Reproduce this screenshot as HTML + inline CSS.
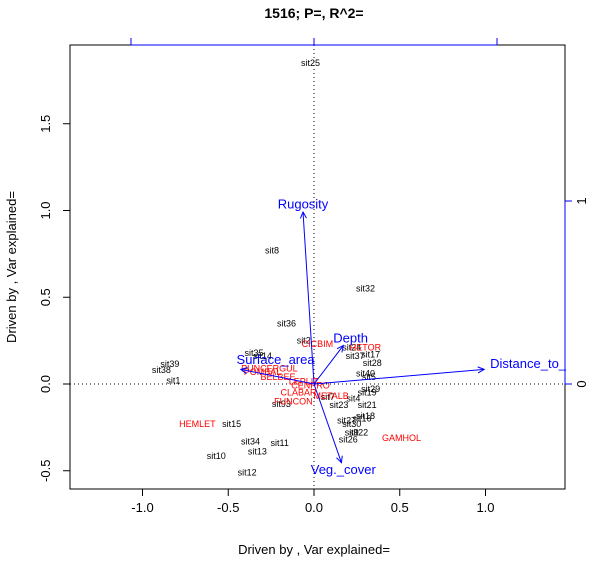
<!DOCTYPE html>
<html><head><meta charset="utf-8"><style>body{margin:0;background:#fff}svg{display:block;font-family:"Liberation Sans",Arial,sans-serif}</style></head>
<body>
<svg id="c" width="600" height="569" viewBox="0 0 600 569">
<text x="314" y="18" text-anchor="middle" font-weight="bold" font-size="14">1516; P=, R^2=</text>
<rect x="70" y="45" width="495" height="444" fill="none" stroke="#000"/>
<g id="g"></g>
<text x="314" y="554" text-anchor="middle" font-size="13">Driven by , Var explained=</text>
<text transform="translate(16,267) rotate(-90)" text-anchor="middle" font-size="13">Driven by , Var explained=</text>
</svg>
<script>
const xTicks=[-1,-0.5,0,0.5,1];
const yTicks=[-0.5,0,0.5,1,1.5];
const topTicks=[-1,0,1];
const rightTicks=[0,1];
const siteNames=["sit25","sit8","sit32","sit36","sit2","sit24","sit37","sit17","sit28","sit40","sit5","sit35","sit14","sit39","sit38","sit1","sit29","sit19","sit7","sit4","sit23","sit21","sit93","sit18","sit16","sit27","sit30","sit9","sit22","sit26","sit15","sit34","sit11","sit13","sit10","sit12"];
const siteX=[-0.02,-0.245,0.30,-0.16,-0.06,0.22,0.24,0.33,0.34,0.30,0.32,-0.35,-0.30,-0.84,-0.89,-0.82,0.33,0.31,0.08,0.23,0.145,0.31,-0.19,0.30,0.28,0.19,0.22,0.22,0.26,0.20,-0.48,-0.37,-0.20,-0.33,-0.57,-0.39];
const siteY=[1.85,0.77,0.55,0.35,0.25,0.21,0.16,0.17,0.12,0.06,0.04,0.18,0.16,0.115,0.08,0.02,-0.03,-0.05,-0.075,-0.085,-0.12,-0.12,-0.115,-0.185,-0.2,-0.21,-0.23,-0.28,-0.28,-0.32,-0.23,-0.33,-0.34,-0.39,-0.415,-0.51];
const spNames=["HEMLET","GAMHOL","CICBIM","HETOR","PUNCERGUL","POMBAL","BELBEE","LEPLIT","CENPRO","CLABAR","METALB","FUNCON"];
const spX=[-0.68,0.51,0.02,0.30,-0.26,-0.30,-0.21,-0.06,-0.02,-0.09,0.10,-0.12];
const spY=[-0.23,-0.31,0.23,0.21,0.09,0.07,0.04,0.015,-0.01,-0.05,-0.07,-0.10];
const envNames=["Rugosity","Depth","Surface_area","Distance_to_","Veg._cover"];
const envX=[-0.06,0.16,-0.40,0.93,0.15];
const envY=[0.94,0.21,0.08,0.08,-0.43];
const envLX=[-0.06,0.20,-0.21,1.17,0.16];
const envLY=[0.98,0.25,0.13,0.11,-0.47];

const sx=v=>314+v*171.5, sy=v=>384-v*173.5;
const ax=v=>314+v*183, ay=v=>384-v*183;
const g=document.getElementById('g');
const NS="http://www.w3.org/2000/svg";
function mk(t,a,txt){const e=document.createElementNS(NS,t);for(const k in a)e.setAttribute(k,a[k]);if(txt!=null)e.textContent=txt;g.appendChild(e);return e;}
let e;
e=mk('line',{x1:314,y1:45,x2:314,y2:489,stroke:'#000','stroke-dasharray':'1,3'});


e=mk('line',{x1:70,y1:384,x2:565,y2:384,stroke:'#000','stroke-dasharray':'1,3'});


xTicks.forEach(v=>{mk('line',{x1:sx(v),y1:489,x2:sx(v),y2:496,stroke:'#000'});
e=mk('text',{x:sx(v),y:512,'text-anchor':'middle','font-size':13},v.toFixed(1));

});
mk('line',{x1:sx(-1),y1:489,x2:sx(1),y2:489,stroke:'#000'});
yTicks.forEach(v=>{mk('line',{x1:63,y1:sy(v),x2:70,y2:sy(v),stroke:'#000'});
e=mk('text',{transform:`translate(50,${sy(v)}) rotate(-90)`,'text-anchor':'middle','font-size':13},v.toFixed(1));

});
mk('line',{x1:ax(-1),y1:45,x2:ax(1),y2:45,stroke:'#00f'});
topTicks.forEach(v=>{e=mk('line',{x1:ax(v),y1:38,x2:ax(v),y2:45,stroke:'#00f'});

});
mk('line',{x1:565,y1:ay(0),x2:565,y2:ay(1),stroke:'#00f'});
rightTicks.forEach(v=>{mk('line',{x1:565,y1:ay(v),x2:572,y2:ay(v),stroke:'#00f'});
e=mk('text',{transform:`translate(586,${ay(v)}) rotate(-90)`,'text-anchor':'middle','font-size':13},String(v));

});
siteNames.forEach((n,i)=>{e=mk('text',{x:sx(siteX[i]),y:sy(siteY[i])+3,'text-anchor':'middle','font-size':9},n);

});
spNames.forEach((n,i)=>{e=mk('text',{x:sx(spX[i]),y:sy(spY[i])+3,'text-anchor':'middle','font-size':9,fill:'#f00'},n);

});
envNames.forEach((n,i)=>{const x2=ax(envX[i]),y2=ay(envY[i]);
e=mk('line',{x1:314,y1:384,x2:x2,y2:y2,stroke:'#00f'});


const a=Math.atan2(y2-384,x2-314),L=7;
mk('polyline',{points:`${x2-L*Math.cos(a-0.45)},${y2-L*Math.sin(a-0.45)} ${x2},${y2} ${x2-L*Math.cos(a+0.45)},${y2-L*Math.sin(a+0.45)}`,fill:'none',stroke:'#00f'});
e=mk('text',{x:ax(envLX[i]),y:ay(envLY[i])+4,'text-anchor':'middle','font-size':13,fill:'#00f'},n);

});
</script>
</body></html>
